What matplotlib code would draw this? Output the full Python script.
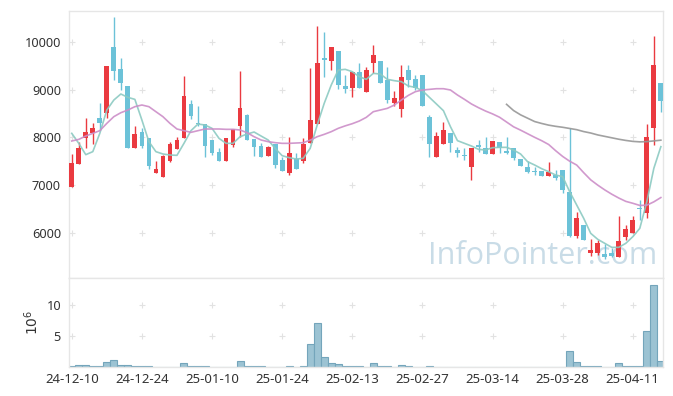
import numpy as np
import matplotlib
matplotlib.use("Agg")
import matplotlib.pyplot as plt

plt.rcParams['font.family'] = ['Noto Sans', 'DejaVu Sans']

# daily candles, 85 trading days (24-12-10 .. 25-04-17)
opens = [6953, 7435, 7992, 8097, 8404, 8515, 9882, 9422, 9066, 7783,
         8104, 7985, 7260, 7176, 7504, 7762, 7992, 8697, 8300, 8278,
         7944, 7700, 7511, 7846, 8236, 8466, 7965, 7818, 7616, 7860,
         7525, 7260, 7539, 7511, 7888, 8271, 9652, 9603, 9798, 9073,
         9024, 9366, 8941, 9561, 9596, 9199, 8711, 8599, 9401, 9220,
         9303, 8425, 7595, 7860, 8083, 7734, 7630, 7386, 7840, 7770,
         7645, 7909, 7714, 7769, 7546, 7386, 7295, 7295, 7197, 7211,
         7316, 6863, 5942, 6165, 5587, 5587, 5552, 5573, 5489, 5921,
         6005, 6530, 6409, 8188, 9143]
highs = [7644, 7909, 8397, 8306, 8711, 9492, 10510, 9652, 9066, 8229,
         8188, 7985, 7504, 7637, 7895, 8013, 9282, 8780, 8662, 8278,
         7944, 7783, 7985, 8174, 9380, 8480, 7965, 7888, 7818, 7860,
         7595, 8000, 7665, 7978, 9443, 10328, 10196, 9882, 9798, 9310,
         9366, 9547, 9478, 9931, 9596, 9478, 8976, 9505, 9505, 9296,
         9303, 8466, 8118, 8327, 8083, 7804, 7769, 7776, 7944, 8013,
         7923, 7909, 8013, 7769, 7546, 7511, 7386, 7295, 7490, 7316,
         7316, 8202, 6445, 6165, 5866, 5852, 5760, 5677, 6361, 6165,
         6361, 6680, 8285, 10119, 9143]
lows = [6953, 7435, 7783, 7853, 8153, 8397, 9199, 8990, 7769, 7783,
        7783, 7330, 7246, 7176, 7476, 7762, 7992, 8376, 8236, 7581,
        7630, 7511, 7511, 7790, 8000, 7951, 7616, 7595, 7616, 7351,
        7302, 7204, 7344, 7470, 7888, 8271, 9254, 9408, 9003, 8920,
        8850, 9038, 8941, 9352, 9143, 8711, 8655, 8418, 9059, 8990,
        8662, 7581, 7595, 7860, 7700, 7595, 7525, 7100, 7699, 7645,
        7645, 7665, 7644, 7525, 7407, 7246, 7204, 7197, 7197, 7107,
        6828, 5921, 5887, 5852, 5517, 5538, 5447, 5503, 5489, 5852,
        6005, 6280, 6305, 7839, 8522]
closes = [7455, 7769, 8104, 8195, 8306, 9492, 9394, 9143, 7783, 8062,
          7818, 7407, 7330, 7609, 7860, 7943, 8864, 8453, 8270, 7825,
          7679, 7511, 7985, 8174, 8613, 7951, 7804, 7595, 7797, 7428,
          7302, 7665, 7344, 7860, 8362, 9547, 9617, 9882, 9101, 9017,
          9366, 9038, 9408, 9722, 9143, 8780, 8815, 9261, 9199, 9024,
          8662, 7860, 8027, 8146, 7888, 7679, 7609, 7776, 7805, 7645,
          7923, 7769, 7665, 7560, 7407, 7281, 7274, 7197, 7267, 7156,
          6898, 5942, 6305, 5852, 5642, 5782, 5503, 5524, 5831, 6082,
          6270, 6500, 8006, 9512, 8766]

# moving averages
ma_short = [8083, 7874, 7637, 7700, 8083, 8571, 8780, 8906, 8836, 8794,
            8362, 7909, 7700, 7651, 7630, 7623, 7874, 8139, 8278, 8257,
            8188, 7978, 7874, 7874, 8013, 8069, 8111, 8027, 7944, 7769,
            7616, 7574, 7546, 7560, 7769, 8257, 8711, 9094, 9408, 9422,
            9373, 9268, 9213, 9338, 9324, 9213, 9185, 9164, 9073, 9045,
            8976, 8836, 8697, 8557, 8222, 7930, 7874, 7818, 7748, 7734,
            7783, 7790, 7790, 7734, 7651, 7490, 7421, 7344, 7281, 7211,
            7177, 6863, 6584, 6305, 5991, 5866, 5782, 5698, 5698, 5782,
            5921, 6096, 6653, 7351, 7804]
ma_mid = [7923, 7957, 8027, 8083, 8139, 8292, 8432, 8515, 8571, 8641,
          8676, 8641, 8536, 8432, 8292, 8174, 8139, 8104, 8139, 8174,
          8174, 8174, 8167, 8167, 8153, 8097, 8013, 7944, 7909, 7888,
          7874, 7874, 7881, 7888, 7940, 8013, 8062, 8118, 8188, 8240,
          8285, 8341, 8418, 8536, 8571, 8606, 8676, 8780, 8878, 8955,
          8990, 9003, 9017, 9017, 8990, 8885, 8794, 8697, 8620, 8550,
          8490, 8420, 8320, 8220, 8150, 8075, 8000, 7930, 7850, 7720,
          7600, 7500, 7420, 7260, 7110, 7000, 6900, 6810, 6730, 6660,
          6620, 6575, 6580, 6650, 6740]
ma_long_start = 62
ma_long = [8690, 8560, 8470, 8400, 8330, 8290, 8255, 8230, 8210, 8185,
           8160, 8120, 8090, 8050, 8020, 7990, 7960, 7935, 7915, 7905,
           7910, 7925, 7940]

# volume in millions
volume = [0.16, 0.33, 0.33, 0.16, 0.16, 0.80, 1.14, 0.33, 0.33, 0.16,
          0.16, 0.16, 0.05, 0.05, 0.05, 0.05, 0.65, 0.16, 0.16, 0.16,
          0.05, 0.05, 0.05, 0.05, 1.03, 0.16, 0.16, 0.16, 0.05, 0.05,
          0.05, 0.16, 0.05, 0.16, 3.80, 7.17, 1.63, 0.65, 0.50, 0.16,
          0.16, 0.16, 0.05, 0.65, 0.16, 0.16, 0.05, 0.33, 0.16, 0.05,
          0.05, 0.16, 0.05, 0.05, 0.05, 0.05, 0.05, 0.05, 0.05, 0.05,
          0.05, 0.05, 0.05, 0.05, 0.05, 0.05, 0.05, 0.05, 0.05, 0.05,
          0.05, 2.66, 0.82, 0.16, 0.16, 0.16, 0.05, 0.05, 0.65, 0.16,
          0.16, 0.16, 5.76, 13.26, 1.03]

tick_pos = [0, 10, 20, 30, 40, 50, 60, 70, 80]
tick_labels = ['24-12-10', '24-12-24', '25-01-10', '25-01-24', '25-02-13',
               '25-02-27', '25-03-14', '25-03-28', '25-04-11']
price_ticks = [6000, 7000, 8000, 9000, 10000]
vol_ticks = [5, 10]

UP = '#ea3a40'
DOWN = '#6cc2d8'
EDGE = '#e6e6e6'
GRIDC = '#e2e2e2'
TXT = '#333333'

W, H = 673, 396
fig = plt.figure(figsize=(W / 100, H / 100), dpi=100)
left = 69.3 / W
width = (663.3 - 69.3) / W
ax1 = fig.add_axes([left, (H - 277.7) / H, width, (277.7 - 10.7) / H])
ax2 = fig.add_axes([left, (H - 367.3) / H, width, (367.3 - 277.7) / H])

x = np.arange(len(closes))
o = np.array(opens)
c = np.array(closes)
colors = [UP if cc >= oo else DOWN for oo, cc in zip(o, c)]

# plus-shaped grid marks
gx, gy = np.meshgrid(tick_pos, price_ticks)
ax1.scatter(gx.ravel(), gy.ravel(), marker='+', s=16, color=GRIDC, linewidths=0.8, zorder=0)

ax1.vlines(x, lows, highs, colors=colors, linewidth=1.0, zorder=2)
body = np.maximum(np.abs(c - o), 20)
ax1.bar(x, body, bottom=np.minimum(o, c), width=0.68, color=colors, zorder=3)

ax1.plot(x, ma_short, color='#8ccac2', linewidth=1.2, alpha=0.9, zorder=4)
ax1.plot(x, ma_mid, color='#cc8ec8', linewidth=1.2, alpha=0.9, zorder=4)
ax1.plot(np.arange(ma_long_start, ma_long_start + len(ma_long)), ma_long,
         color='#979797', linewidth=1.2, alpha=0.9, zorder=4)

ax1.text(0.99, 0.025, 'InfoPointer.com', transform=ax1.transAxes, ha='right', va='bottom',
         fontsize=22, color='#c9dce7', family=['Open Sans', 'DejaVu Sans'], zorder=1)

ax1.set_xlim(-0.35, 84.35)
ax1.set_ylim(5063, 10649)
ax1.set_yticks(price_ticks)
ax1.set_xticks(tick_pos)
ax1.set_xticklabels([])

# volume
gx2, gy2 = np.meshgrid(tick_pos, vol_ticks)
ax2.scatter(gx2.ravel(), gy2.ravel(), marker='+', s=16, color=GRIDC, linewidths=0.8, zorder=0)
ax2.bar(x, volume, width=1.0, color='#9cc3d3', edgecolor='#74a5bb', linewidth=0.8, zorder=2)
ax2.set_xlim(-0.35, 84.35)
ax2.set_ylim(0, 14.4)
ax2.set_yticks(vol_ticks)
ax2.set_xticks(tick_pos)
ax2.set_xticklabels(tick_labels)
ax2.set_ylabel('$10^{6}$', fontsize=10, color=TXT, labelpad=3)

for ax in (ax1, ax2):
    for s in ax.spines.values():
        s.set_color(EDGE)
        s.set_linewidth(1.0)
    ax.tick_params(length=0, colors=TXT, labelsize=9.2, pad=6)
ax2.tick_params(axis='x', pad=4, labelsize=9.5)

fig.savefig('out.png', dpi=100, facecolor='white')
